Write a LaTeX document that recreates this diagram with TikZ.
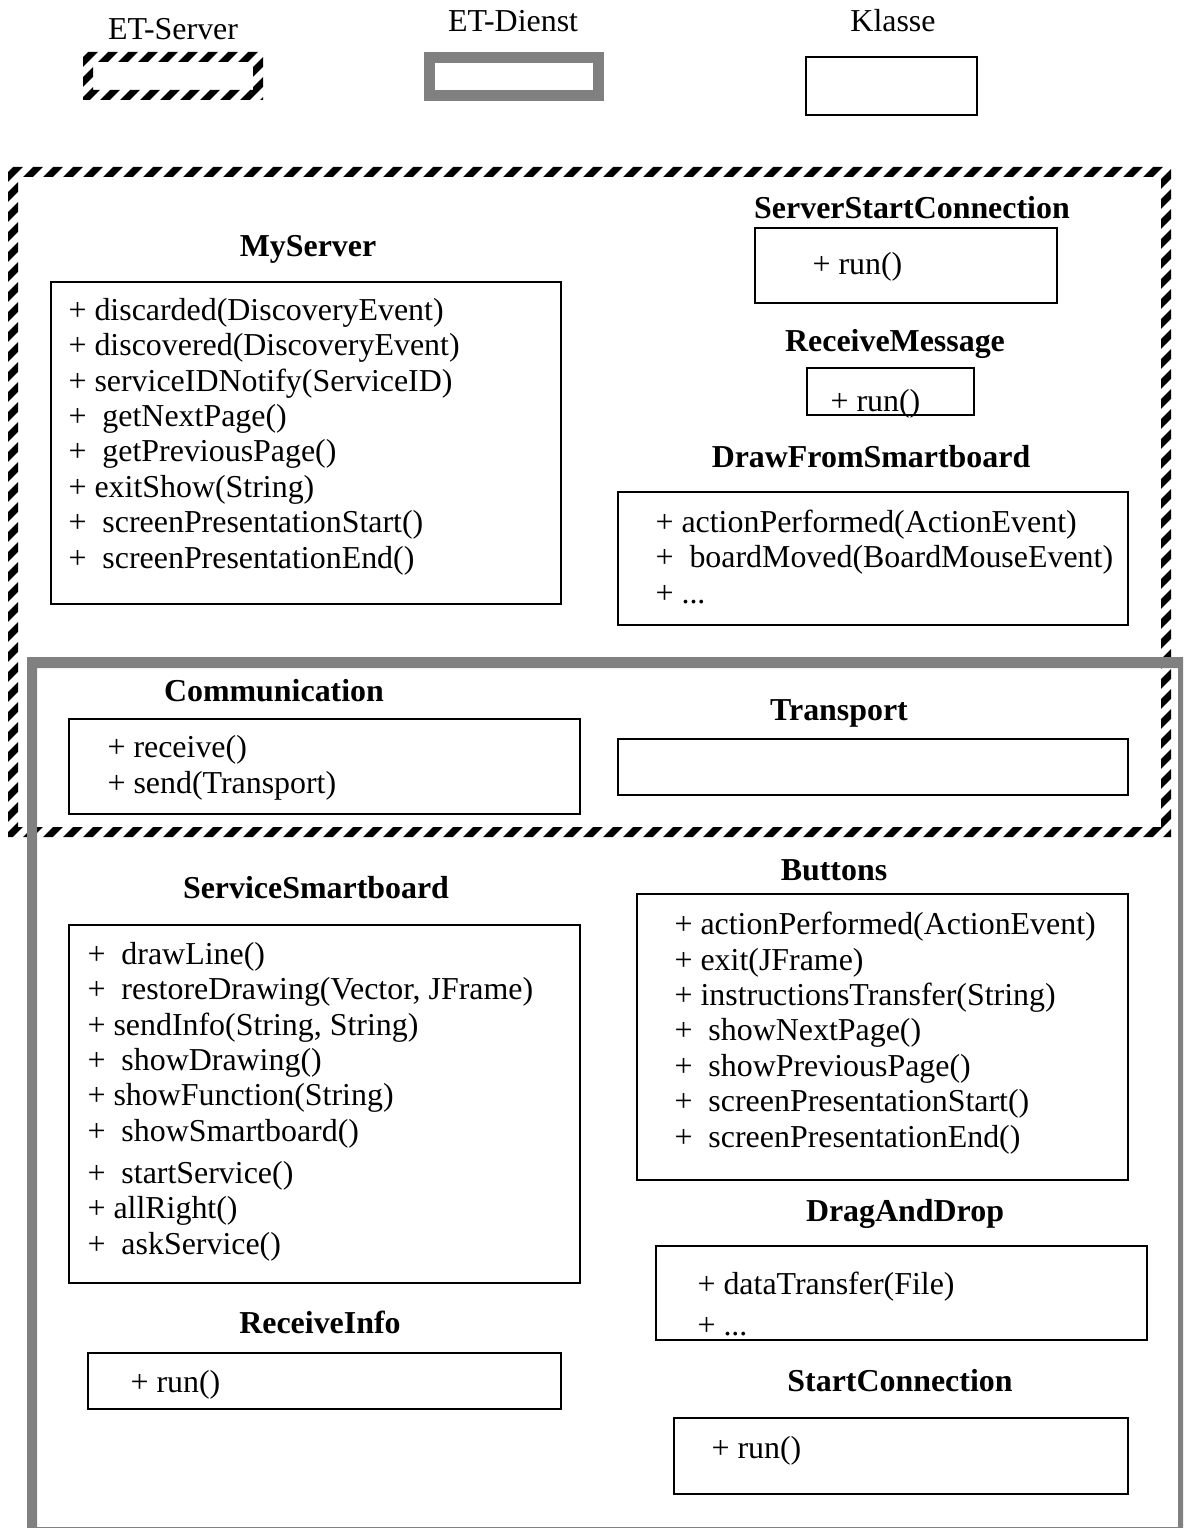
\documentclass[tikz,border=0pt]{standalone}
\usepackage{fontspec}
\setmainfont{Liberation Serif}
\usetikzlibrary{fit}
\newcommand{\pix}{0.376pt}
\newcommand{\grund}{\fontsize{12pt}{13.3pt}\selectfont}
\definecolor{dienstgray}{RGB}{128,128,128}
\tikzset{
    klasse/.style={draw, line width=0.5pt, inner sep=0pt},
    titel/.style={font=\grund\bfseries, anchor=base, inner sep=0pt},
    legende/.style={anchor=base, inner sep=0pt},
    % Lage: Grundlinie der letzten Zeile
    ops/.style={align=left, anchor=base west, inner sep=0pt},
    hatch/.style={line width=7*\pix},
}
% x1, y1, x2, y2, Breite
\newcommand{\hatchframe}[5]{%
    \begin{scope}[even odd rule]
        \clip (#1,#2) rectangle (#3,#4) (#1+#5,#2+#5) rectangle (#3-#5,#4-#5);
        \foreach \k in {0,...,125}
            \draw[hatch] (#1-#4+#2-20+20*\k, #4+10) -- ++(#4-#2+20, -#4+#2-20);
    \end{scope}}

\begin{document}
\begin{tikzpicture}[x=\pix, y=-\pix, font=\grund]
            \useasboundingbox (0,0) rectangle (1184,1528);

            % Legende
            \node[legende] (lgServer) at (173, 40) {ET-Server};
            \node[legende] (lgDienst) at (513, 32) {ET-Dienst};
            \node[legende] (lgKlasse) at (893, 32) {Klasse};
            \hatchframe{83}{52}{263}{100}{10}
            \draw[dienstgray, line width=11*\pix] (429.5,57.5) rectangle (598.5,95.5);
            \node[klasse, fit={(806,57) (977,115)}] (klasseBox) {};

            % Rahmen
            \hatchframe{8}{167}{1171}{837}{10}
            \fill[dienstgray, even odd rule] (27,657) rectangle (1183,1530) (37,668) rectangle (1178,1527);

            % ET-Server
            \node[titel] (myServerT) at (308, 257) {MyServer};
            \node[klasse, fit={(51,282) (561,604)}] (myServer) {};
            \node[ops] (myServerOps) at (68, 568) {+ discarded(DiscoveryEvent)\\
                + discovered(DiscoveryEvent)\\
                + serviceIDNotify(ServiceID)\\
                +\ \ getNextPage()\\
                +\ \ getPreviousPage()\\
                + exitShow(String)\\
                +\ \ screenPresentationStart()\\
                +\ \ screenPresentationEnd()};

            \node[titel] (serverStartT) at (912, 219) {ServerStartConnection};
            \node[klasse, fit={(755,228) (1057,303)}] (serverStart) {};
            \node[ops] (serverStartOps) at (812, 275) {+ run()};

            \node[titel] (receiveMsgT) at (895, 351) {ReceiveMessage};
            \node[klasse, fit={(807,368) (974,415)}] (receiveMsg) {};
            \node[ops] (receiveMsgOps) at (830, 411) {+ run()};

            \node[titel] (drawFromT) at (871, 467) {DrawFromSmartboard};
            \node[klasse, fit={(618,492) (1128,625)}] (drawFrom) {};
            \node[ops] (drawFromOps) at (655, 603) {+ actionPerformed(ActionEvent)\\
                +\ \ boardMoved(BoardMouseEvent)\\
                + ...};

            % gemeinsam
            \node[titel] (commT) at (274, 701) {Communication};
            \node[klasse, fit={(69,719) (580,814)}] (comm) {};
            \node[ops] (commOps) at (107, 793) {+ receive()\\
                + send(Transport)};

            \node[titel] (transportT) at (839, 720) {Transport};
            \node[klasse, fit={(618,739) (1128,795)}] (transport) {};

            % ET-Dienst
            \node[titel] (serviceT) at (316, 898) {ServiceSmartboard};
            \node[klasse, fit={(69,925) (580,1283)}] (service) {};
            \node[ops] (serviceOps) at (87, 1254) {+\ \ drawLine()\\
                +\ \ restoreDrawing(Vector, JFrame)\\
                + sendInfo(String, String)\\
                +\ \ showDrawing()\\
                + showFunction(String)\\
                +\ \ showSmartboard()\\[2.5pt]
                +\ \ startService()\\
                + allRight()\\
                +\ \ askService()};

            \node[titel] (buttonsT) at (834, 880) {Buttons};
            \node[klasse, fit={(637,894) (1128,1180)}] (buttons) {};
            \node[ops] (buttonsOps) at (674, 1147) {+ actionPerformed(ActionEvent)\\
                + exit(JFrame)\\
                + instructionsTransfer(String)\\
                +\ \ showNextPage()\\
                +\ \ showPreviousPage()\\
                +\ \ screenPresentationStart()\\
                +\ \ screenPresentationEnd()};

            \node[titel] (dragDropT) at (905, 1221) {DragAndDrop};
            \node[klasse, fit={(656,1246) (1147,1340)}] (dragDrop) {};
            \node[ops] (dragDropOps) at (697, 1335) {+ dataTransfer(File)\\[2.1pt]
                + ...};

            \node[titel] (receiveInfoT) at (320, 1333) {ReceiveInfo};
            \node[klasse, fit={(88,1353) (561,1409)}] (receiveInfo) {};
            \node[ops] (receiveInfoOps) at (130, 1392) {+ run()};

            \node[titel] (startConnT) at (900, 1391) {StartConnection};
            \node[klasse, fit={(674,1418) (1128,1494)}] (startConn) {};
            \node[ops] (startConnOps) at (711, 1458) {+ run()};
        \end{tikzpicture}
\end{document}
